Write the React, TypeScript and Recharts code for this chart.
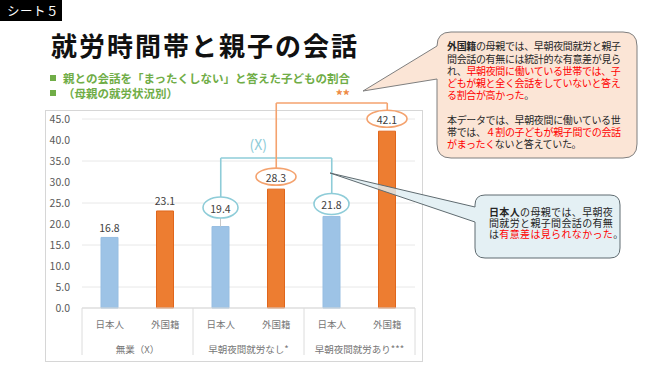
import React from "react";
import {
  BarChart, Bar, XAxis, YAxis, CartesianGrid, LabelList, Cell, ReferenceLine,
} from "recharts";

const groups = ["無業（X）", "早朝夜間就労なし*", "早朝夜間就労あり***"];
const nationalities = ["日本人", "外国籍"];
const rates = [16.8, 23.1, 19.4, 28.3, 21.8, 42.1];
const yTicks = [0, 5, 10, 15, 20, 25, 30, 35, 40, 45];

const rows = groups.flatMap((g, gi) =>
  nationalities.map((n, ni) => ({
    id: `${gi}-${ni}`,
    group: g,
    nat: n,
    value: rates[gi * 2 + ni],
  }))
);

const FONT = '"Noto Sans CJK JP", "Noto Sans", sans-serif';
// latin font first so tight line spacing keeps line boxes apart; kanji fall back to Noto CJK
const TIGHT = '"Liberation Sans", "Noto Sans CJK JP", sans-serif';
const BLUE = "#9DC3E6";
const ORANGE = "#ED7D31";
const TEAL = "#8ECCD8";
const LORANGE = "#F4A26E";
const RED = "#FF0000";

// bracket heights (data units)
const tealTop = 35.7;
const orangeTop = 48.8;

const ValueLabel = (props: any) => {
  const { x, y, width, value, index } = props;
  const cx = x + width / 2;
  const txt = Number(value).toFixed(1);
  if (index < 2) {
    return (
      <text x={cx} y={y - 10} textAnchor="middle" dominantBaseline="central"
        fontSize={10.5} fill="#404040" fontFamily={FONT}>{txt}</text>
    );
  }
  const teal = index % 2 === 0;
  const rx = teal ? 17.5 : 20;
  const ry = teal ? 10.5 : 8.5;
  const lift = index === 2 ? 19 : 12.5;
  const cy = y - lift;
  return (
    <g>
      {index === 2 && (
        <line x1={cx} x2={cx} y1={cy + ry} y2={y} stroke="#c8c8c8" strokeWidth={1} />
      )}
      <ellipse cx={cx} cy={cy} rx={rx} ry={ry} fill="#fff"
        stroke={teal ? TEAL : LORANGE} strokeWidth={1.6} />
      <text x={cx} y={cy + 0.5} textAnchor="middle" dominantBaseline="central"
        fontSize={10.5} fill="#404040" fontFamily={FONT}>{txt}</text>
    </g>
  );
};

const CatTick = (props: any) => {
  const { x, y, payload, index } = props;
  const i = index ?? payload.index;
  const half = payload?.offset || 27.75;
  const row = rows[i];
  return (
    <g>
      <text x={x} y={y + 16} textAnchor="middle" dominantBaseline="central"
        fontSize={9.5} fill="#767676" fontFamily={FONT}>{row?.nat}</text>
      {i % 2 === 0 && (
        <>
          <line x1={x - half} x2={x - half} y1={y} y2={y + 47} stroke="#dcdcdc" />
          <text x={x + half} y={y + 41} textAnchor="middle" dominantBaseline="central"
            fontSize={9.5} fill="#767676" fontFamily={FONT}>{row?.group}</text>
        </>
      )}
      {i === rows.length - 1 && (
        <line x1={x + half} x2={x + half} y1={y} y2={y + 47} stroke="#dcdcdc" />
      )}
    </g>
  );
};

const bracketText = (txt: string, dx: number, dy: number, color: string, size: number, weight = 400) =>
  (props: any) => {
    const vb = props.viewBox || {};
    const x1 = vb.x1 ?? vb.x;
    const x2 = vb.x2 ?? vb.x + vb.width;
    const yy = vb.y1 ?? vb.y;
    return (
      <text x={(x1 + x2) / 2 + dx} y={yy + dy} textAnchor="middle" dominantBaseline="central"
        fontSize={size} fontWeight={weight} fill={color} fontFamily={FONT}>{txt}</text>
    );
  };

function calloutPath(x0: number, y0: number, x1: number, y1: number, r: number,
  ta: number, tb: number, tx: number, ty: number) {
  return `M${x0 + r},${y0} H${x1 - r} Q${x1},${y0} ${x1},${y0 + r} V${y1 - r} Q${x1},${y1} ${x1 - r},${y1} H${x0 + r} Q${x0},${y1} ${x0},${y1 - r} V${tb} L${tx},${ty} L${x0},${ta} V${y0 + r} Q${x0},${y0} ${x0 + r},${y0} Z`;
}

export default function App() {
  const ids = rows.map((r) => r.id);
  return (
    <div style={{ position: "absolute", left: 0, top: 0, width: 670, height: 377, background: "#fff", fontFamily: FONT, overflow: "hidden" }}>
      <div style={{ position: "absolute", left: 0, top: 0, width: 62, height: 21, background: "#000", color: "#fff", fontSize: 12.5, lineHeight: "21px", paddingLeft: 7, boxSizing: "border-box", letterSpacing: 0.5 }}>
        シート５
      </div>
      <div style={{ position: "absolute", left: 51, top: 32, fontSize: 26, lineHeight: "26px", fontWeight: 700, letterSpacing: 2, color: "#111", whiteSpace: "nowrap" }}>
        就労時間帯と親子の会話
      </div>
      {[78, 93].map((cy) => (
        <div key={cy} style={{ position: "absolute", left: 50, top: cy - 3, width: 6, height: 6, background: "#70AD47" }} />
      ))}
      <div style={{ position: "absolute", left: 63, top: 72, fontFamily: TIGHT, fontSize: 11.5, lineHeight: "15px", fontWeight: 700, color: "#70AD47", whiteSpace: "nowrap" }}>
        親との会話を「まったくしない」と答えた子どもの割合<br />（母親の就労状況別）
      </div>

      <div style={{ position: "absolute", left: 45, top: 110, width: 378, height: 252, border: "1px solid #d6d6d6", boxSizing: "border-box" }} />

      <div style={{ position: "absolute", left: 45, top: 78 }}>
        <BarChart width={378} height={284} data={rows} margin={{ top: 41, right: 8, left: 0, bottom: 2 }}>
          <CartesianGrid vertical={false} stroke="#e8e8e8" />
          <XAxis dataKey="id" height={52} interval={0} tickLine={false} tickSize={0} tickMargin={0}
            axisLine={{ stroke: "#d9d9d9" }} tick={<CatTick />} />
          <YAxis domain={[0, 45]} ticks={yTicks} width={37} axisLine={false} tickLine={false}
            tickSize={0} tickMargin={12} tickFormatter={(v: number) => v.toFixed(1)}
            tick={{ fontSize: 10.5, fill: "#595959", fontFamily: FONT }} />
          <Bar dataKey="value" barSize={17} isAnimationActive={false}>
            {rows.map((r, i) => (
              <Cell key={r.id} fill={i % 2 === 0 ? BLUE : ORANGE}
                stroke={i % 2 === 0 ? "#97BEE2" : "#E0661C"} strokeWidth={1} />
            ))}
            <LabelList dataKey="value" content={<ValueLabel />} />
          </Bar>
          {/* teal bracket: 日本人, no early/late work vs with it */}
          <ReferenceLine ifOverflow="visible" stroke={TEAL} strokeWidth={1.6}
            segment={[{ x: ids[2], y: 26.4 }, { x: ids[2], y: tealTop }]} />
          <ReferenceLine ifOverflow="visible" stroke={TEAL} strokeWidth={1.6}
            segment={[{ x: ids[2], y: tealTop }, { x: ids[4], y: tealTop }]}
            label={bracketText("(X)", -18, -14, TEAL, 14)} />
          <ReferenceLine ifOverflow="visible" stroke={TEAL} strokeWidth={1.6}
            segment={[{ x: ids[4], y: tealTop }, { x: ids[4], y: 26.7 }]} />
          {/* orange bracket: 外国籍 */}
          <ReferenceLine ifOverflow="visible" stroke={LORANGE} strokeWidth={1.6}
            segment={[{ x: ids[3], y: 33.0 }, { x: ids[3], y: orangeTop }]} />
          <ReferenceLine ifOverflow="visible" stroke={LORANGE} strokeWidth={1.6}
            segment={[{ x: ids[3], y: orangeTop }, { x: ids[5], y: orangeTop }]}
            label={bracketText("**", 11, -8, "#EE8A44", 14, 700)} />
          <ReferenceLine ifOverflow="visible" stroke={LORANGE} strokeWidth={1.6}
            segment={[{ x: ids[5], y: orangeTop }, { x: ids[5], y: 46.3 }]} />
        </BarChart>
      </div>

      <svg width={670} height={377} style={{ position: "absolute", left: 0, top: 0, pointerEvents: "none" }}>
        <path d={calloutPath(437, 32, 637, 158, 14, 46, 79, 363, 91)} fill="#FBE5D6" stroke="#7f7f7f" strokeWidth={1} />
        <path d={calloutPath(475, 195, 620, 258, 10, 207, 222, 330, 173)} fill="rgba(222,237,241,0.82)" stroke="#5f6b70" strokeWidth={1} />
      </svg>

      <div style={{ position: "absolute", left: 447, top: 41.3, fontFamily: TIGHT, fontSize: 10, lineHeight: "12.2px", letterSpacing: "-0.35px", color: "#262626", whiteSpace: "nowrap" }}>
        <b>外国籍</b>の母親では、早朝夜間就労と親子<br />
        間会話の有無には統計的な有意差が見ら<br />
        れ、<span style={{ color: RED }}>早朝夜間に働いている世帯では、子<br />
        どもが親と全く会話をしていないと答え<br />
        る割合が高かった</span>。<br />
        <br />
        本データでは、早朝夜間に働いている世<br />
        帯では、<span style={{ color: RED }}>４割の子どもが親子間での会話<br />
        がまったく</span>ないと答えていた。
      </div>

      <div style={{ position: "absolute", left: 489, top: 206.7, fontFamily: TIGHT, fontSize: 10, lineHeight: "11.3px", letterSpacing: "0.35px", color: "#262626", whiteSpace: "nowrap" }}>
        <b>日本人</b>の母親では、早朝夜<br />
        間就労と親子間会話の有無<br />
        は<span style={{ color: RED }}>有意差は見られなかった</span>。
      </div>
    </div>
  );
}
